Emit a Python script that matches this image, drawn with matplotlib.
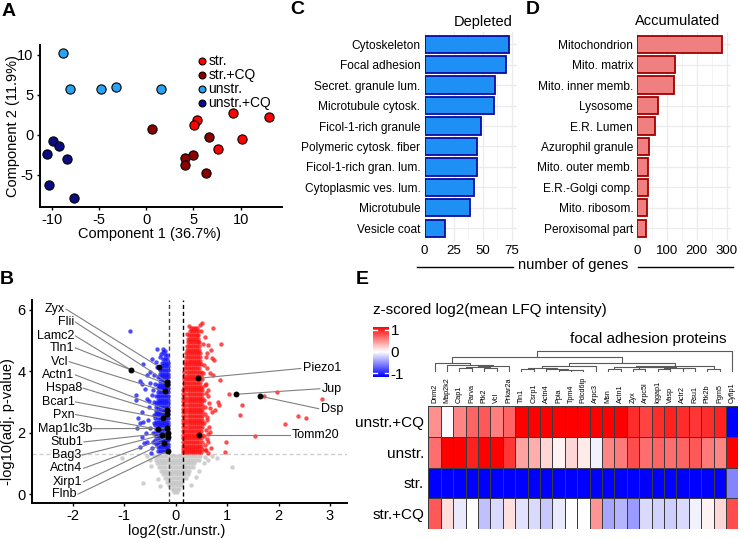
import numpy as np
import matplotlib
matplotlib.use('Agg')
import matplotlib.pyplot as plt
from matplotlib.lines import Line2D

plt.rcParams['font.family'] = ['Liberation Sans', 'DejaVu Sans']
plt.rcParams['axes.unicode_minus'] = False

# ---------------- DATA ----------------
# Panel A: PCA
str_pc1 = [5.4, 5.1, 9.2, 13.0, 10.2, 7.6]
str_pc2 = [1.9, 1.3, 2.7, 2.3, -0.5, -1.7]
strcq_pc1 = [0.6, 6.7, 4.9, 4.1, 4.1, 6.3]
strcq_pc2 = [0.7, -0.2, -2.5, -2.9, -3.7, -4.8]
unstr_pc1 = [-8.9, -8.1, -4.8, -3.2, 1.5]
unstr_pc2 = [10.3, 5.8, 5.8, 6.0, 5.7]
unstrcq_pc1 = [-9.9, -9.3, -10.6, -8.4, -10.3, -7.7]
unstrcq_pc2 = [-0.8, -1.4, -2.4, -3.0, -6.2, -7.9]
pca_groups = ['str.', 'str.+CQ', 'unstr.', 'unstr.+CQ']

# Panel B: volcano (rows of points: (y, [x...]))
red_rows = [
    (5.42, [0.29, 0.33, 0.37, 0.41]),
    (5.30, [0.27, 0.31, 0.35, 0.39, 0.43]),
    (5.18, [0.25, 0.29, 0.33, 0.37, 0.41, 0.44]),
    (5.06, [0.24, 0.28, 0.32, 0.36, 0.40, 0.44]),
    (4.94, [0.23, 0.27, 0.31, 0.35, 0.39, 0.43, 0.46]),
    (4.82, [0.22, 0.26, 0.30, 0.34, 0.38, 0.42, 0.46]),
    (4.70, [0.21, 0.25, 0.29, 0.33, 0.37, 0.41, 0.45]),
    (4.58, [0.20, 0.24, 0.28, 0.32, 0.36, 0.40, 0.44, 0.47]),
    (4.46, [0.20, 0.23, 0.27, 0.31, 0.35, 0.39, 0.43, 0.47]),
    (4.34, [0.19, 0.23, 0.27, 0.31, 0.35, 0.39, 0.43, 0.47]),
    (4.22, [0.18, 0.22, 0.26, 0.30, 0.34, 0.38, 0.42, 0.46, 0.49]),
    (4.10, [0.18, 0.22, 0.26, 0.30, 0.34, 0.38, 0.42, 0.46]),
    (3.98, [0.17, 0.21, 0.25, 0.29, 0.33, 0.37, 0.41, 0.45, 0.49]),
    (3.86, [0.17, 0.21, 0.25, 0.29, 0.33, 0.37, 0.41, 0.45, 0.49]),
    (3.74, [0.16, 0.20, 0.24, 0.28, 0.32, 0.36, 0.40, 0.44, 0.48, 0.51]),
    (3.62, [0.16, 0.20, 0.24, 0.28, 0.32, 0.36, 0.40, 0.44, 0.48]),
    (3.50, [0.16, 0.20, 0.24, 0.28, 0.32, 0.36, 0.40, 0.44, 0.48, 0.52]),
    (3.38, [0.15, 0.19, 0.23, 0.27, 0.31, 0.35, 0.39, 0.43, 0.47, 0.51]),
    (3.26, [0.15, 0.19, 0.23, 0.27, 0.31, 0.35, 0.39, 0.43, 0.47, 0.51]),
    (3.14, [0.15, 0.19, 0.23, 0.27, 0.31, 0.35, 0.39, 0.43, 0.47, 0.52]),
    (3.02, [0.15, 0.19, 0.23, 0.27, 0.31, 0.35, 0.39, 0.43, 0.47, 0.51]),
    (2.90, [0.15, 0.19, 0.23, 0.27, 0.31, 0.35, 0.39, 0.43, 0.47, 0.52]),
    (2.78, [0.15, 0.19, 0.23, 0.27, 0.31, 0.35, 0.39, 0.43, 0.47, 0.51]),
    (2.66, [0.15, 0.19, 0.23, 0.27, 0.31, 0.35, 0.39, 0.43, 0.47, 0.52]),
    (2.54, [0.15, 0.19, 0.23, 0.27, 0.31, 0.35, 0.39, 0.43, 0.47, 0.51]),
    (2.42, [0.15, 0.19, 0.23, 0.27, 0.31, 0.35, 0.39, 0.43, 0.47, 0.52]),
    (2.30, [0.15, 0.19, 0.23, 0.27, 0.31, 0.35, 0.39, 0.43, 0.47, 0.51]),
    (2.18, [0.15, 0.19, 0.23, 0.27, 0.31, 0.35, 0.39, 0.43, 0.47, 0.52]),
    (2.06, [0.14, 0.18, 0.22, 0.26, 0.30, 0.34, 0.38, 0.42, 0.46, 0.50]),
    (1.94, [0.14, 0.18, 0.22, 0.26, 0.30, 0.34, 0.38, 0.42, 0.46, 0.51]),
    (1.82, [0.14, 0.18, 0.22, 0.26, 0.30, 0.34, 0.38, 0.42, 0.46, 0.50]),
    (1.70, [0.14, 0.18, 0.22, 0.26, 0.30, 0.34, 0.38, 0.42, 0.46, 0.51]),
    (1.58, [0.14, 0.18, 0.22, 0.26, 0.30, 0.34, 0.38, 0.42, 0.46, 0.50]),
    (1.46, [0.14, 0.18, 0.22, 0.26, 0.30, 0.34, 0.38, 0.42, 0.46, 0.51]),
    (1.36, [0.14, 0.18, 0.22, 0.26, 0.30, 0.34, 0.38, 0.42, 0.46, 0.50]),
]
red_scatter_x = [0.52, 0.73, 0.63, 0.89, 0.68, 0.59, 0.70, 0.74, 0.67, 0.72, 0.86, 0.83, 0.85,
                 0.76, 0.67, 0.70, 1.04, 1.25, 1.28, 1.96, 1.71, 2.85, 2.38, 2.53, 2.12, 1.54,
                 0.67, 0.63, 0.68, 0.96, 0.57, 0.98, 0.62, 0.60, 0.65, 0.58, 0.61, 0.56,
                 0.62, 0.54, 0.50, 0.55, 0.53, 0.56, 0.58, 0.55, 0.57, 0.56, 0.60, 0.55,
                 0.58, 0.55, 0.60, 0.56, 0.58, 0.62, 0.64, 0.63, 0.60, 0.48, 0.26, 0.22]
red_scatter_y = [5.56, 5.42, 4.85, 4.88, 4.69, 4.47, 4.42, 4.36, 3.93, 3.88, 3.71, 3.00, 2.90,
                 2.74, 2.79, 2.66, 3.25, 2.57, 2.90, 3.33, 3.20, 3.09, 2.55, 2.47, 2.27, 1.88,
                 2.03, 1.70, 1.49, 1.38, 1.43, 1.68, 3.40, 2.40, 2.20, 3.60, 4.10, 5.10,
                 1.95, 4.90, 5.30, 4.20, 3.95, 3.55, 3.30, 3.05, 2.85, 2.60, 2.50, 2.30,
                 2.10, 1.90, 1.80, 1.60, 1.45, 1.35, 2.95, 3.20, 4.60, 5.50, 5.46, 5.20]

blue_rows = [
    (4.52, [-0.17, -0.21]),
    (4.40, [-0.16, -0.20, -0.24]),
    (4.28, [-0.15, -0.19, -0.23, -0.27]),
    (4.16, [-0.15, -0.19, -0.23, -0.27]),
    (4.04, [-0.15, -0.19, -0.23, -0.27, -0.31]),
    (3.92, [-0.15, -0.19, -0.23, -0.27, -0.31]),
    (3.80, [-0.15, -0.19, -0.23, -0.27, -0.31, -0.34]),
    (3.68, [-0.15, -0.19, -0.23, -0.27, -0.31]),
    (3.56, [-0.15, -0.19, -0.23, -0.27, -0.31, -0.35]),
    (3.44, [-0.15, -0.19, -0.23, -0.27, -0.31, -0.35]),
    (3.32, [-0.15, -0.19, -0.23, -0.27, -0.31, -0.35]),
    (3.20, [-0.15, -0.19, -0.23, -0.27, -0.31, -0.35, -0.38]),
    (3.08, [-0.15, -0.19, -0.23, -0.27, -0.31, -0.35]),
    (2.96, [-0.15, -0.19, -0.23, -0.27, -0.31, -0.35, -0.39]),
    (2.84, [-0.15, -0.19, -0.23, -0.27, -0.31, -0.35, -0.39]),
    (2.72, [-0.15, -0.19, -0.23, -0.27, -0.31, -0.35, -0.39]),
    (2.60, [-0.15, -0.19, -0.23, -0.27, -0.31, -0.35, -0.39]),
    (2.48, [-0.15, -0.19, -0.23, -0.27, -0.31, -0.35, -0.40]),
    (2.36, [-0.15, -0.19, -0.23, -0.27, -0.31, -0.35, -0.39]),
    (2.24, [-0.15, -0.19, -0.23, -0.27, -0.31, -0.35, -0.40]),
    (2.12, [-0.15, -0.19, -0.23, -0.27, -0.31, -0.35, -0.39]),
    (2.00, [-0.15, -0.19, -0.23, -0.27, -0.31, -0.35, -0.40]),
    (1.88, [-0.15, -0.19, -0.23, -0.27, -0.31, -0.35, -0.39]),
    (1.76, [-0.15, -0.19, -0.23, -0.27, -0.31, -0.35, -0.40]),
    (1.64, [-0.15, -0.19, -0.23, -0.27, -0.31, -0.35, -0.39]),
    (1.52, [-0.15, -0.19, -0.23, -0.27, -0.31, -0.35]),
    (1.40, [-0.15, -0.19, -0.23, -0.27, -0.31, -0.35]),
]
blue_scatter_x = [-0.89, -0.36, -0.24, -0.24, -0.47, -0.64, -0.30, -0.37, -0.50, -0.43, -0.56,
                  -0.66, -0.50, -0.77, -0.60, -0.47, -0.52, -0.77, -0.66, -0.64, -0.53, -0.66,
                  -0.70, -0.56, -0.50, -0.43, -0.47, -0.76, -0.73, -0.52, -0.70, -0.62, -0.69,
                  -0.45, -0.44, -0.45, -0.43, -0.42, -0.40, -0.38, -0.20, -0.28, -0.58, -0.55, -0.48]
blue_scatter_y = [5.32, 4.74, 4.74, 4.62, 4.40, 4.23, 4.45, 4.15, 3.96, 3.88, 3.88,
                  3.60, 3.62, 3.22, 3.41, 3.22, 3.03, 3.06, 2.68, 2.36, 2.41, 1.87,
                  1.54, 1.70, 2.14, 2.57, 1.49, 2.14, 2.47, 2.84, 2.30, 1.67, 3.69,
                  3.40, 2.00, 1.70, 3.00, 2.30, 3.60, 4.30, 4.66, 4.55, 2.00, 3.10, 1.35]

gray_rows = [
    (1.24, [-0.42, -0.36, -0.30, -0.24, -0.18, -0.12, -0.06, 0.00, 0.06, 0.12, 0.18, 0.24, 0.30, 0.36, 0.42, 0.48]),
    (1.12, [-0.39, -0.33, -0.27, -0.21, -0.15, -0.09, -0.03, 0.03, 0.09, 0.15, 0.21, 0.27, 0.33, 0.39, 0.45]),
    (1.00, [-0.36, -0.30, -0.24, -0.18, -0.12, -0.06, 0.00, 0.06, 0.12, 0.18, 0.24, 0.30, 0.36]),
    (0.88, [-0.32, -0.26, -0.20, -0.14, -0.08, -0.02, 0.04, 0.10, 0.16, 0.22, 0.28, 0.33]),
    (0.76, [-0.28, -0.22, -0.16, -0.10, -0.04, 0.02, 0.08, 0.14, 0.20, 0.26]),
    (0.64, [-0.25, -0.19, -0.13, -0.07, -0.01, 0.05, 0.11, 0.17, 0.23]),
    (0.52, [-0.21, -0.15, -0.09, -0.03, 0.03, 0.09, 0.15, 0.20]),
    (0.40, [-0.17, -0.11, -0.05, 0.01, 0.07, 0.13]),
    (0.28, [-0.13, -0.07, -0.01, 0.05, 0.10]),
    (0.16, [-0.08, -0.03, 0.02, 0.07]),
    (0.06, [-0.03, 0.02]),
]
gray_scatter_x = [-0.63, 1.10, 0.80, -1.05, 0.57, 0.55, -0.50, -0.48, 0.45, 0.62, 0.40, -0.35,
                  -0.55, 0.70, -0.30, 0.30]
gray_scatter_y = [0.37, 0.89, 1.16, 1.16, 1.21, 1.00, 1.10, 0.90, 0.75, 1.10, 0.55, 0.50,
                  1.25, 1.25, 0.25, 0.30]

left_genes = ['Zyx', 'Flii', 'Lamc2', 'Tln1', 'Vcl', 'Actn1', 'Hspa8', 'Bcar1', 'Pxn',
              'Map1lc3b', 'Stub1', 'Bag3', 'Actn4', 'Xirp1', 'Flnb']
left_fc = [-0.33, -0.17, -0.86, -0.16, -0.21, -0.17, -0.16, -0.24, -0.34, -0.17, -0.15,
           -0.27, -0.15, -0.22, -0.15]
left_p = [4.15, 3.66, 4.03, 3.57, 3.35, 2.74, 2.61, 2.47, 2.11, 2.14, 2.00, 1.92, 1.85,
          1.67, 1.41]
right_genes = ['Piezo1', 'Jup', 'Dsp', 'Tomm20']
right_fc = [0.43, 1.17, 1.64, 0.46]
right_p = [3.77, 3.25, 3.19, 1.92]

# Panel C / D
dep_terms = ['Cytoskeleton', 'Focal adhesion', 'Secret. granule lum.', 'Microtubule cytosk.',
             'Ficol-1-rich granule', 'Polymeric cytosk. fiber', 'Ficol-1-rich gran. lum.',
             'Cytoplasmic ves. lum.', 'Microtubule', 'Vesicle coat']
dep_counts = [73, 70, 61, 60, 49, 45, 45, 43, 39, 18]
acc_terms = ['Mitochondrion', 'Mito. matrix', 'Mito. inner memb.', 'Lysosome', 'E.R. Lumen',
             'Azurophil granule', 'Mito. outer memb.', 'E.R.-Golgi comp.', 'Mito. ribosom.',
             'Peroxisomal part']
acc_counts = [286, 128, 123, 69, 59, 40, 36, 36, 31, 29]

# Panel E heatmap
hm_proteins = ['Dnm2', 'Map2k2', 'Cap1', 'Parva', 'Ptk2', 'Vcl', 'Prkar2a', 'Tln1', 'Csrp1',
               'Actn4', 'Ppia', 'Tpm4', 'Pdcd6ip', 'Arpc3', 'Msn', 'Actn1', 'Zyx', 'Arpc5l',
               'Iqgap1', 'Vasp', 'Actr2', 'Rsu1', 'Ptk2b', 'Pgm5', 'Cyfip1']
hm_conditions = ['unstr.+CQ', 'unstr.', 'str.', 'str.+CQ']
hm_unstr_cq = [0.50, -0.02, 0.55, 0.70, 0.75, 0.58, 0.70, 1.20, 1.20, 1.20, 1.20, 1.20, 1.20,
               1.20, 1.20, 1.20, 0.95, 0.85, 0.95, 1.00, 0.95, 0.90, 0.95, 1.00, -1.20]
hm_unstr = [0.65, 1.20, 1.20, 1.00, 1.20, 1.20, 0.90, 0.42, 0.36, 0.18, 0.06, 0.18, 0.09,
            -0.06, 0.55, 0.60, 0.80, 0.65, 0.70, 0.65, 0.70, 0.75, 0.60, 0.55, 1.20]
hm_str = [-1.20] * 24 + [-0.55]
hm_str_cq = [0.75, 0.15, -0.09, 0.00, -0.28, -0.17, 0.15, -0.13, -0.17, -0.25, -0.09, 0.00,
             0.00, 0.48, -0.40, -0.34, -0.45, -0.17, -0.20, -0.22, -0.17, -0.06, 0.06, 0.18, 0.80]
# dendrogram merges (left, right, height) over column indices
dendro_tree = ((
    (0, (1, ((((2, 3, 3.6), (4, 5, 4.0), 4.8)), 6, 6.0), 6.6), 9.3),
    ((((7, 8, 3.0), (9, (10, (11, 12, 1.8), 2.5), 3.3), 4.0), 13, 6.3),
     (((14, 15, 2.7), ((16, 17, 3.0), ((18, 19, 3.4), (20, 21, 3.6), 4.2), 4.6), 5.0),
      (22, 23, 2.7), 6.3), 9.3),
    14.7), 24, 21.0)

# ---------------- FIGURE ----------------
W, H = 741, 539
fig = plt.figure(figsize=(W / 100, H / 100), dpi=100)


def axes_px(l, t, r, b):
    return fig.add_axes([l / W, 1 - b / H, (r - l) / W, (b - t) / H])


def ftext(x, y, s, **kw):
    return fig.text(x / W, 1 - y / H, s, **kw)


def fline(x0, x1, y, **kw):
    fig.add_artist(Line2D([x0 / W, x1 / W], [1 - y / H, 1 - y / H], **kw))


# Panel letters
for lab, (x, y) in zip('ABCDE', [(9, 12), (7, 280), (297, 10), (533, 10), (362, 279)]):
    ftext(x, y, lab, fontsize=14, fontweight='bold', ha='center', va='center')

# ---- Panel A ----
axA = axes_px(40, 45, 282, 207)
cols = ['#ff0000', '#8b0000', '#29a3f0', '#0c0c82']
for gx, gy, c, lab in zip([str_pc1, strcq_pc1, unstr_pc1, unstrcq_pc1],
                          [str_pc2, strcq_pc2, unstr_pc2, unstrcq_pc2], cols, pca_groups):
    axA.scatter(gx, gy, s=44, c=c, edgecolors='black', linewidths=0.8, label=lab, zorder=3)
axA.set_xlim(-11.3, 14.4)
axA.set_ylim(-9.0, 11.25)
axA.set_xticks([-10, -5, 0, 5, 10])
axA.set_yticks([-5, 0, 5, 10])
for s in ['top', 'right']:
    axA.spines[s].set_visible(False)
for s in ['left', 'bottom']:
    axA.spines[s].set_linewidth(1.4)
axA.tick_params(labelsize=10.5, length=2.5, width=1, pad=2)
leg = axA.legend(loc='upper left', bbox_to_anchor=(0.625, 0.99), frameon=False, fontsize=10,
                 handlelength=0.6, handletextpad=0.15, labelspacing=0.0, borderpad=0,
                 markerscale=0.75)
ftext(13, 126, 'Component 2 (11.9%)', rotation=90, fontsize=10.5, ha='center', va='center')
ftext(150, 234, 'Component 1 (36.7%)', fontsize=10.5, ha='center', va='center')

# ---- Panel B ----
axB = axes_px(31.7, 300, 347, 503)


def rows_to_xy(rows):
    xs, ys = [], []
    for y, row in rows:
        xs.extend(row)
        ys.extend([y] * len(row))
    return xs, ys


gx, gy = rows_to_xy(gray_rows)
bx, by = rows_to_xy(blue_rows)
rx, ry = rows_to_xy(red_rows)
ms = 10
axB.scatter(gx + gray_scatter_x, gy + gray_scatter_y, s=ms, c='#c4c4c4', linewidths=0, alpha=0.8, zorder=2)
axB.scatter(bx + blue_scatter_x, by + blue_scatter_y, s=ms, c='#1010ff', linewidths=0, alpha=0.75, zorder=2)
axB.scatter(rx + red_scatter_x, ry + red_scatter_y, s=ms, c='#ff1010', linewidths=0, alpha=0.75, zorder=2)
axB.axvline(-0.1375, ls=(0, (3, 2)), color='#444444', lw=1.0, zorder=3)
axB.axvline(0.1375, ls=(0, (3, 2)), color='black', lw=1.0, zorder=3)
axB.axhline(1.301, ls=(0, (3, 2)), color='#cfcfcf', lw=1.0, zorder=1)

left_label_x = [-2.15, -1.97, -1.97, -1.97, -2.09, -1.97, -1.82, -1.97, -1.97, -1.63, -1.80,
                -1.84, -1.81, -1.81, -1.92]
left_label_y = [6.02, 5.60, 5.15, 4.76, 4.31, 3.88, 3.45, 3.00, 2.59, 2.13, 1.70, 1.27, 0.84,
                0.40, 0.00]
for g, px_, py_, lx, ly in zip(left_genes, left_fc, left_p, left_label_x, left_label_y):
    axB.plot([lx + 0.02, px_], [ly, py_], color='#808080', lw=0.8, zorder=4)
    axB.text(lx, ly, g, fontsize=9, ha='right', va='center', zorder=5)
right_label_x = [2.43, 2.80, 2.78, 2.22]
right_label_y = [4.09, 3.43, 2.78, 1.92]
for g, px_, py_, lx, ly in zip(right_genes, right_fc, right_p, right_label_x, right_label_y):
    axB.plot([px_, lx], [py_, ly], color='#808080', lw=0.8, zorder=4)
    axB.text(lx + 0.04, ly, g, fontsize=9, ha='left', va='center', zorder=5)
axB.scatter(left_fc + right_fc, left_p + right_p, s=18, c='black', linewidths=0, zorder=6)
axB.set_xlim(-2.8, 3.33)
axB.set_ylim(-0.29, 6.32)
axB.set_xticks([-2, -1, 0, 1, 2, 3])
axB.set_yticks([0, 2, 4, 6])
for s in ['top', 'right']:
    axB.spines[s].set_visible(False)
for s in ['left', 'bottom']:
    axB.spines[s].set_linewidth(1.4)
axB.tick_params(labelsize=10.5, length=2.5, width=1, pad=2)
ftext(8, 422, '-log10(adj. p-value)', rotation=90, fontsize=10.5, ha='center', va='center')
ftext(177, 531, 'log2(str./unstr.)', fontsize=10.5, ha='center', va='center')


# ---- Panels C / D ----
def bar_panel(ax, terms, counts, face, edge, xmax, ticks, minor):
    y = np.arange(len(terms))
    ax.barh(y, counts, height=0.85, color=face, edgecolor=edge, linewidth=1.3, zorder=3)
    ax.set_ylim(len(terms) - 0.4, -0.6)
    ax.set_xlim(0, xmax)
    ax.set_yticks(y)
    ax.set_yticklabels(terms, fontsize=8.6)
    ax.set_xticks(ticks)
    ax.set_xticklabels([str(t) for t in ticks], fontsize=9.5)
    ax.set_xticks(minor, minor=True)
    ax.grid(True, which='major', color='#ebebeb', lw=0.9, zorder=0)
    ax.grid(True, which='minor', axis='x', color='#f3f3f3', lw=0.6, zorder=0)
    ax.set_axisbelow(True)
    for s in ax.spines.values():
        s.set_visible(False)
    ax.tick_params(which='both', length=0, pad=3)


axC = axes_px(424.5, 32, 516.5, 240.5)
bar_panel(axC, dep_terms, dep_counts, '#1e8ff5', '#0a0aa0', 79.3, [0, 25, 50, 75],
          [12.5, 37.5, 62.5])
axD = axes_px(637.3, 32, 731, 240.5)
bar_panel(axD, acc_terms, acc_counts, '#f08080', '#a00000', 315, [0, 100, 200, 300],
          [50, 150, 250])
ftext(483, 22, 'Depleted', fontsize=10.5, ha='center', va='center')
ftext(678, 21, 'Accumulated', fontsize=10.5, ha='center', va='center')
ftext(573, 265, 'number of genes', fontsize=10.5, ha='center', va='center')
fline(416.7, 513.3, 267.3, color='black', lw=1.0)
fline(637.7, 733.3, 267.3, color='black', lw=1.0)

# ---- Panel E ----
axE = axes_px(428.3, 406, 738.3, 529)
hm = np.array([hm_unstr_cq, hm_unstr, hm_str, hm_str_cq])
mesh = axE.pcolormesh(hm, cmap='bwr', vmin=-1.15, vmax=1.15, edgecolors='#3c3c3c',
                      linewidth=0.6)
axE.set_xlim(0, len(hm_proteins))
axE.set_ylim(len(hm_conditions), 0)
axE.set_xticks(np.arange(len(hm_proteins)) + 0.5)
axE.set_xticklabels(hm_proteins, rotation=90, fontsize=5.2)
axE.xaxis.tick_top()
axE.set_yticks(np.arange(len(hm_conditions)) + 0.5)
axE.set_yticklabels(hm_conditions, fontsize=11)
axE.tick_params(length=0, pad=2)
axE.tick_params(axis='y', pad=3)
for s in axE.spines.values():
    s.set_visible(False)

axDen = axes_px(428.3, 350, 738.3, 372)
axDen.set_xlim(0, len(hm_proteins))
axDen.set_ylim(0, 22)
axDen.axis('off')


def draw_tree(node):
    if isinstance(node, int):
        return node + 0.5, 0.0
    l, r, h = node
    xl, hl = draw_tree(l)
    xr, hr = draw_tree(r)
    axDen.plot([xl, xl, xr, xr], [hl, h, h, hr], color='#5a5a5a', lw=0.8,
               solid_capstyle='butt')
    return (xl + xr) / 2, h


draw_tree(dendro_tree)
ftext(648, 339, 'focal adhesion proteins', fontsize=11, ha='center', va='center')

cax = axes_px(373, 326.7, 389, 376.7)
cb = fig.colorbar(mesh, cax=cax, ticks=[-1, 0, 1])
cb.outline.set_visible(False)
cb.ax.set_yticklabels(['-1', '0', '1'], fontsize=11)
cb.ax.tick_params(length=0, pad=1)
for v in [-1, 0, 1]:
    cax.plot([0, 0.22], [v, v], color='white', lw=1.0)
    cax.plot([0.78, 1.0], [v, v], color='white', lw=1.0)
ftext(373, 310, 'z-scored log2(mean LFQ intensity)', fontsize=11, ha='left', va='center')

fig.savefig('out.png', dpi=100)
